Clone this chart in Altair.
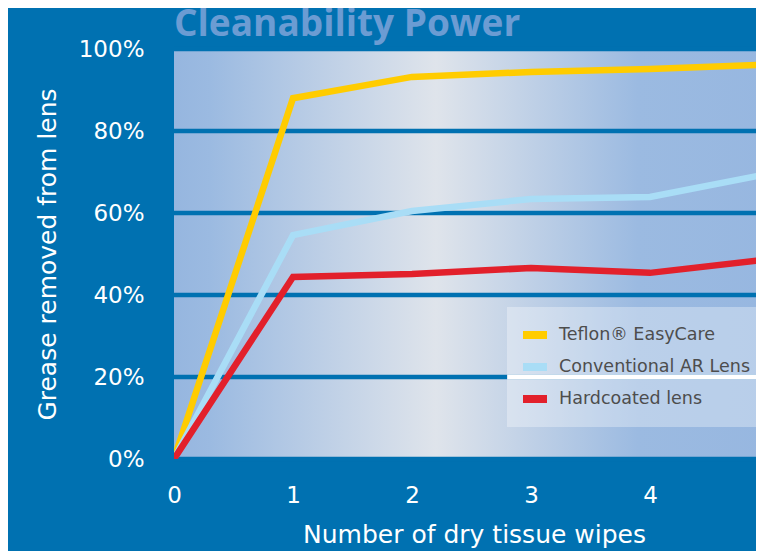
import altair as alt
import pandas as pd

# ---- data ----
wipes = [0, 1, 2, 3, 4, 5]
teflon = [0, 88.0, 93.2, 94.4, 95.1, 96.2]
conventional = [0, 54.6, 60.5, 63.4, 63.9, 69.6]
hardcoated = [0, 44.4, 45.1, 46.6, 45.4, 48.7]
series = ["Teflon® EasyCare", "Conventional AR Lens", "Hardcoated lens"]
series_colors = ["#ffcc00", "#a9ddf6", "#e2202b"]

x_ticks = [0, 1, 2, 3, 4, 5]
y_ticks = [0, 20, 40, 60, 80, 100]

BG = "#0071b1"
FONT = "DejaVu Sans"

rows = []
for name, vals in zip(series, [teflon, conventional, hardcoated]):
    for w, v in zip(wipes, vals):
        rows.append({"wipes": w, "pct": v, "series": name})
df = pd.DataFrame(rows)

# the x axis runs a little past the right edge of the picture (the "5" is cut off)
xscale = alt.Scale(domain=[0, 5], range=[0, 595], nice=False, zero=False)
yscale = alt.Scale(domain=[0, 100], nice=False)

x_axis = alt.Axis(
    values=x_ticks,
    title="Number of dry tissue wipes",
    domain=False,
    ticks=False,
    grid=False,
    labelFlush=False,
    labelColor="white",
    labelFont=FONT,
    labelFontSize=23,
    labelPadding=25,
    titleColor="white",
    titleFont=FONT,
    titleFontSize=25,
    titleFontWeight="normal",
    titleX=300,
    titleY=83,
    titleBaseline="alphabetic",
)
y_axis = alt.Axis(
    values=y_ticks,
    labelExpr="datum.value + '%'",
    title="Grease removed from lens",
    domain=False,
    ticks=False,
    grid=False,
    labelFlush=False,
    labelColor="white",
    labelFont=FONT,
    labelFontSize=23,
    labelPadding=30,
    titleColor="white",
    titleFont=FONT,
    titleFontSize=25,
    titleFontWeight="normal",
    titleAngle=270,
    titleX=-127,
    titleY=205,
    titleBaseline="middle",
    titleAlign="center",
)

# gradient background of the plot area
bg_df = pd.DataFrame({"x0": [x_ticks[0]], "x1": [x_ticks[-1]], "y0": [y_ticks[0]], "y1": [y_ticks[-1]]})
gradient = alt.Gradient(
    gradient="linear",
    x1=0, x2=1, y1=0, y2=0,
    stops=[
        alt.GradientStop(color="#96b6df", offset=0),
        alt.GradientStop(color="#9bbae1", offset=0.06),
        alt.GradientStop(color="#dfe4eb", offset=0.44),
        alt.GradientStop(color="#9bbae1", offset=0.78),
        alt.GradientStop(color="#97b7e0", offset=1),
    ],
)
bg = alt.Chart(bg_df).mark_rect(fill=gradient, strokeWidth=0).encode(
    x=alt.X("x0:Q", scale=xscale, axis=x_axis),
    x2="x1:Q",
    y=alt.Y("y0:Q", scale=yscale, axis=y_axis),
    y2="y1:Q",
)

grid_df = pd.DataFrame({"g": y_ticks})
grid = alt.Chart(grid_df).mark_rule(stroke=BG, strokeWidth=4.5).encode(
    y=alt.Y("g:Q", scale=yscale, axis=y_axis)
)

white_df = pd.DataFrame({"xa": [2.8], "xb": [5], "yy": [20]})
white = alt.Chart(white_df).mark_rule(stroke="#ffffff", strokeWidth=4.5, clip=True).encode(
    x=alt.X("xa:Q", scale=xscale, axis=x_axis),
    x2="xb:Q",
    y=alt.Y("yy:Q", scale=yscale, axis=y_axis),
)

lines = alt.Chart(df).mark_line(strokeWidth=6.5, strokeJoin="miter", clip=True).encode(
    x=alt.X("wipes:Q", scale=xscale, axis=x_axis),
    y=alt.Y("pct:Q", scale=yscale, axis=y_axis),
    color=alt.Color(
        "series:N",
        scale=alt.Scale(domain=series, range=series_colors),
        sort=series,
        legend=alt.Legend(
            title=None,
            orient="none",
            legendX=333,
            legendY=258,
            fillColor="rgba(255,255,255,0.32)",
            padding=12,
            rowPadding=0,
            symbolType="stroke",
            symbolSize=576,
            symbolStrokeWidth=8,
            labelFont=FONT,
            labelFontSize=17.5,
            labelColor="#4d4d4d",
            labelOffset=8,
            labelLimit=400,
        ),
    ),
)

chart = (
    alt.layer(bg, grid, white, lines)
    .properties(
        width=582,
        height=410,
        padding={"left": 166, "top": 41, "right": 0, "bottom": 92},
        autosize=alt.AutoSizeParams(type="none"),
        background=BG,
        title=alt.TitleParams(
            "Cleanability Power",
            anchor="start",
            frame="group",
            font="Open Sans",
            fontSize=37,
            fontWeight="bold",
            color="#6b9cd3",
            offset=12,
            baseline="alphabetic",
            dx=0,
            dy=47,
        ),
    )
    .configure_view(stroke=None)
)

chart.save("out.html", embed_options={"renderer": "svg", "actions": False})
